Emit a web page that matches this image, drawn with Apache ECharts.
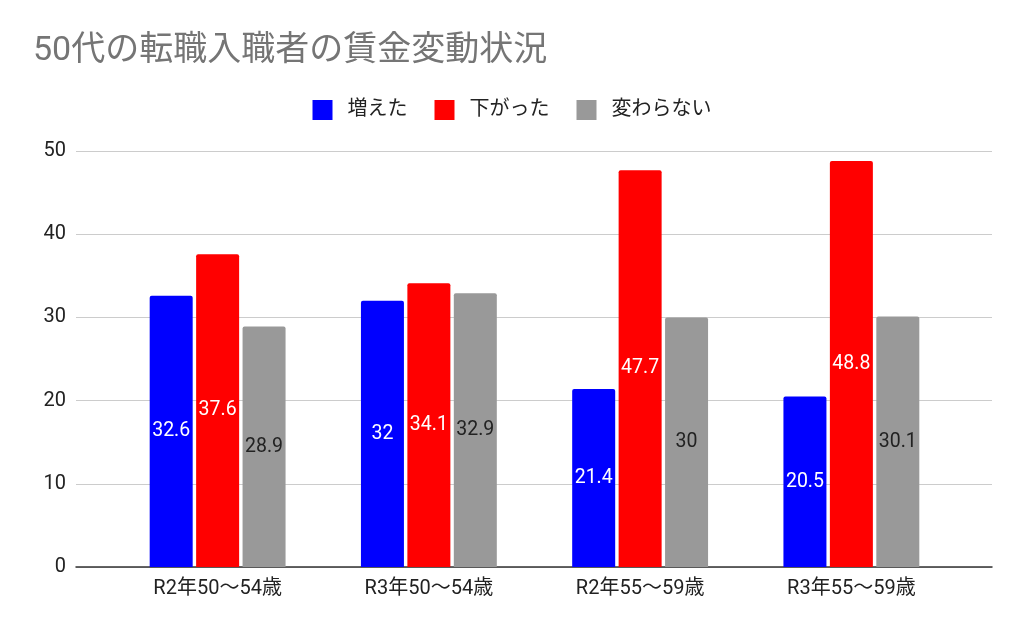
<!doctype html>
<html>
<head>
<meta charset="utf-8">
<title>50代の転職入職者の賃金変動状況</title>
<script src="https://cdn.jsdelivr.net/npm/echarts@6/dist/echarts.min.js"></script>
<style>
	html, body { margin: 0; padding: 0; background: #fff; }
	#chart { width: 1024px; height: 633px; }
</style>
</head>
<body>
<div id="chart"></div>
<script>
	var categories = ["R2年50〜54歳", "R3年50〜54歳", "R2年55〜59歳", "R3年55〜59歳"];
	var increased = [32.6, 32, 21.4, 20.5];
	var decreased = [37.6, 34.1, 47.7, 48.8];
	var unchanged = [28.9, 32.9, 30, 30.1];
	var yTicks = { min: 0, max: 50, interval: 10 };

	var font = 'Roboto, "Noto Sans CJK JP", sans-serif';
	var chart = echarts.init(document.getElementById("chart"));

	function barSeries(name, data, color, labelColor) {
		return {
			name: name,
			type: 'bar',
			xAxisIndex: 1,
			yAxisIndex: 1,
			barWidth: 43,
			barGap: '8%',
			itemStyle: {
				color: color,
				borderRadius: [2, 2, 0, 0]
			},
			label: {
				show: true,
				position: 'inside',
				color: labelColor,
				fontSize: 19.5,
				fontFamily: font
			},
			data: data
		};
	}

	chart.setOption({
		animation: false,
		textStyle: { fontFamily: font },
		title: {
			text: '50代の転職入職者の賃金変動状況',
			left: 28,
			top: 30,
			textStyle: {
				color: '#757575',
				fontSize: 34,
				fontWeight: 'normal',
				fontFamily: font
			}
		},
		legend: {
			left: 'center',
			top: 95,
			itemWidth: 20,
			itemHeight: 20,
			itemGap: 27,
			icon: 'rect',
			textStyle: {
				color: '#222',
				fontSize: 20,
				padding: [0, 0, 0, 10],
				fontFamily: font
			},
			data: ['増えた', '下がった', '変わらない']
		},
		grid: [
			{ left: 76, right: 32, top: 151, bottom: 66 },
			{ left: 112, right: 67, top: 151, bottom: 66 }
		],
		xAxis: [{
			type: 'category',
			gridIndex: 0,
			data: [],
			axisTick: { show: false },
			axisLabel: { show: false },
			axisLine: { show: true, lineStyle: { color: '#333', width: 1.5 } }
		}, {
			type: 'category',
			gridIndex: 1,
			data: categories,
			axisTick: { show: false },
			axisLine: { show: false },
			axisLabel: {
				color: '#222',
				fontSize: 20,
				margin: 12,
				fontFamily: font
			}
		}],
		yAxis: [{
			type: 'value',
			gridIndex: 0,
			min: yTicks.min,
			max: yTicks.max,
			interval: yTicks.interval,
			axisLine: { show: false },
			axisTick: { show: false },
			axisLabel: {
				color: '#222',
				fontSize: 20,
				margin: 10,
				fontFamily: font
			},
			splitLine: { lineStyle: { color: '#cccccc', width: 1 } }
		}, {
			type: 'value',
			gridIndex: 1,
			min: yTicks.min,
			max: yTicks.max,
			interval: yTicks.interval,
			show: false,
			splitLine: { show: false }
		}],
		series: [
			barSeries('増えた', increased, '#0000ff', '#ffffff'),
			barSeries('下がった', decreased, '#ff0000', '#ffffff'),
			barSeries('変わらない', unchanged, '#999999', '#222222')
		]
	});
</script>
</body>
</html>
